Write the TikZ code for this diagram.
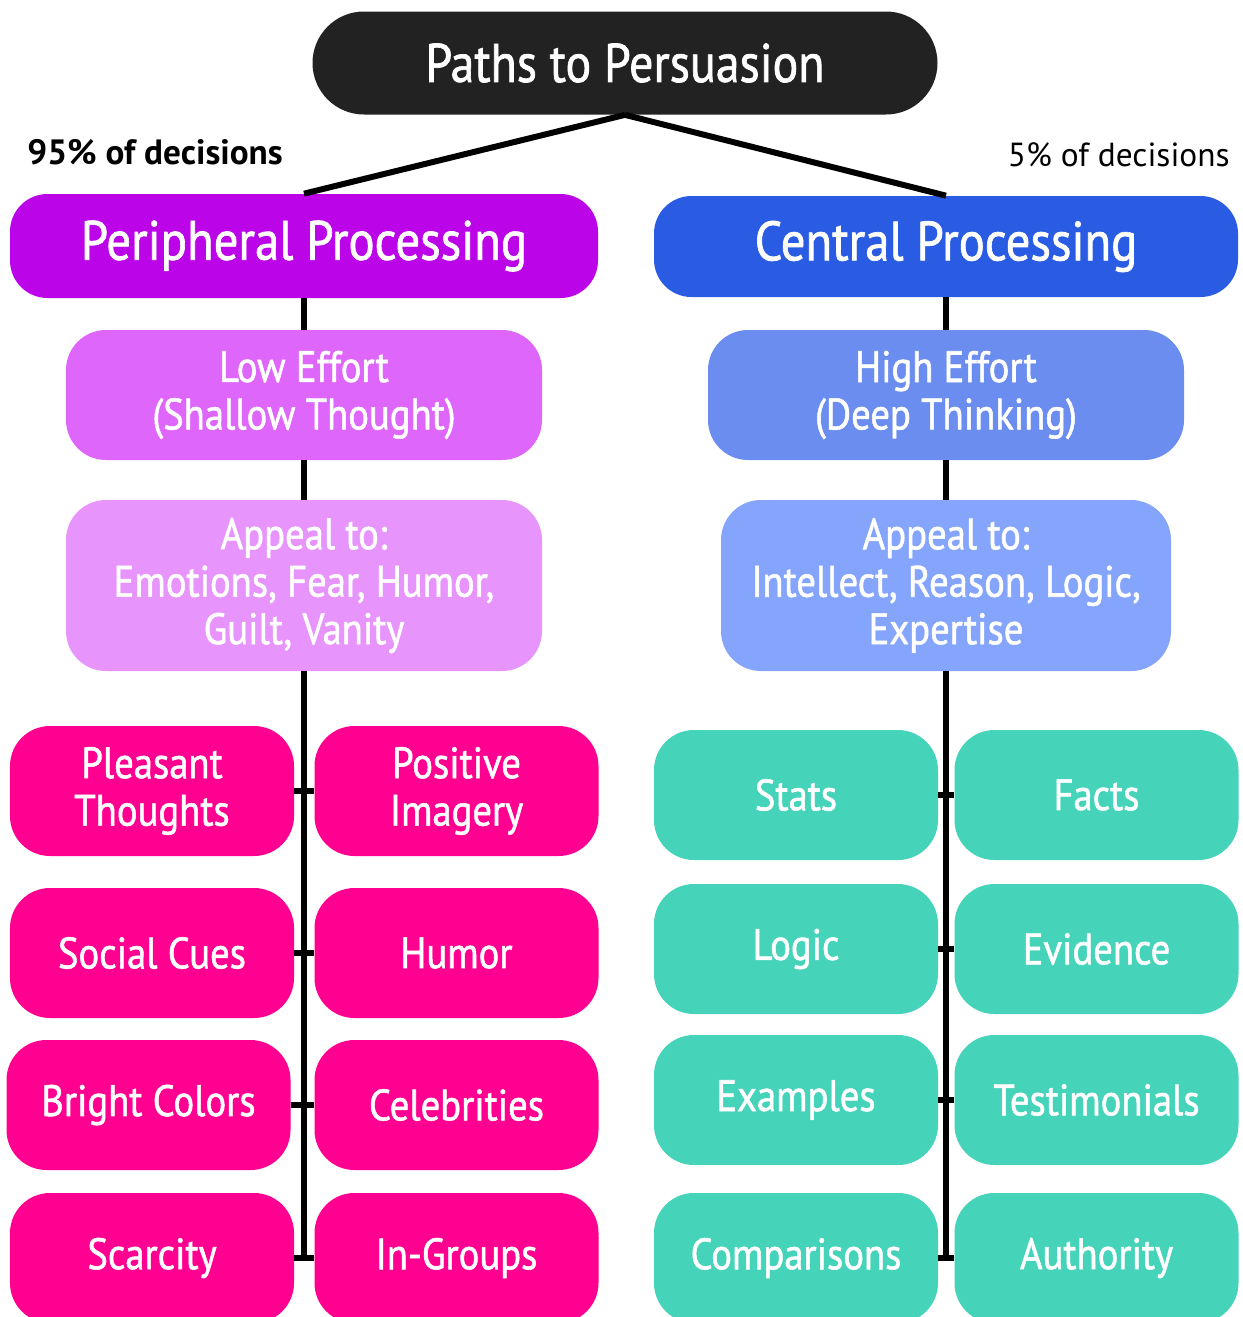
\documentclass[tikz,border=0pt]{standalone}
\usepackage{fontspec}
\setmainfont{PT Sans}[FakeStretch=0.88, FakeBold=1.2]
\newfontfamily\labelfont{PT Sans}
\usepackage{xcolor}
\usepackage{tikz}
\usetikzlibrary{positioning}

\definecolor{titlegray}{HTML}{222222}
\definecolor{periph}{HTML}{BC04E8}
\definecolor{central}{HTML}{2A5BE3}
\definecolor{loweff}{HTML}{DF66FB}
\definecolor{appealL}{HTML}{E794FC}
\definecolor{higheff}{HTML}{6A8DEF}
\definecolor{appealR}{HTML}{85A5FC}
\definecolor{cuepink}{HTML}{FF0090}
\definecolor{cueteal}{HTML}{45D3BA}

\begin{document}
\begin{tikzpicture}[
    box/.style={rounded corners=0.8cm, text=white, align=center,
      minimum height=2.6cm, inner sep=0pt,
      font=\fontsize{25}{27}\selectfont},
    headbox/.style={rounded corners=0.75cm, text=white, minimum height=2.06cm,
      inner sep=0pt, font=\fontsize{31.5}{33}\selectfont},
    pinkcue/.style={box, fill=cuepink, minimum width=5.68cm},
    tealcue/.style={box, fill=cueteal, minimum width=5.68cm},
    link/.style={line width=3.4pt, black}]
  \useasboundingbox (0,0) rectangle (24.86,-26.34);

  % top
  \node[headbox, fill=titlegray, rounded corners=1.03cm, minimum width=12.5cm, font=\fontsize{31}{33}\selectfont] (title) at (12.5,-1.26) {Paths to Persuasion};
  \node[headbox, fill=periph, minimum width=11.76cm, minimum height=2.08cm] (periph) at (6.08,-4.92) {Peripheral Processing};
  \node[headbox, fill=central, minimum width=11.68cm, minimum height=2.02cm] (central) at (18.92,-4.93) {Central Processing};
  \node[anchor=west, inner sep=0pt, font=\fontsize{20}{22}\labelfont\bfseries] (pct95) at (0.54,-3.04) {95\% of decisions};
  \node[anchor=east, inner sep=0pt, font=\fontsize{19}{22}\labelfont] (pct5) at (24.6,-3.1) {5\% of decisions};

  % effort and appeal
  \node[box, fill=loweff, minimum width=9.52cm] (loweffort) at (6.08,-7.9) {Low Effort\\(Shallow Thought)};
  \node[box, fill=higheff, minimum width=9.52cm] (higheffort) at (18.92,-7.9) {High Effort\\(Deep Thinking)};
  \node[box, fill=appealL, minimum width=9.52cm, minimum height=3.42cm] (appealP) at (6.08,-11.71) {Appeal to:\\Emotions, Fear, Humor,\\Guilt, Vanity};
  \node[box, fill=appealR, minimum width=9.0cm, minimum height=3.42cm] (appealC) at (18.92,-11.71) {Appeal to:\\Intellect, Reason, Logic,\\Expertise};

  % peripheral cues
  \node[pinkcue] (pl1) at (3.04,-15.82) {Pleasant\\Thoughts};
  \node[pinkcue] (pr1) at (9.13,-15.82) {Positive\\Imagery};
  \node[pinkcue] (pl2) at (3.04,-19.06) {Social Cues};
  \node[pinkcue] (pr2) at (9.13,-19.06) {Humor};
  \node[pinkcue] (pl3) at (2.97,-22.1) {Bright Colors};
  \node[pinkcue] (pr3) at (9.13,-22.1) {Celebrities};
  \node[pinkcue] (pl4) at (3.04,-25.16) {Scarcity};
  \node[pinkcue] (pr4) at (9.13,-25.16) {In-Groups};

  % central cues
  \node[tealcue] (cl1) at (15.92,-15.9) {Stats};
  \node[tealcue] (cr1) at (21.93,-15.9) {Facts};
  \node[tealcue] (cl2) at (15.92,-18.98) {Logic};
  \node[tealcue] (cr2) at (21.93,-18.98) {Evidence};
  \node[tealcue] (cl3) at (15.92,-22.0) {Examples};
  \node[tealcue] (cr3) at (21.93,-22.0) {Testimonials};
  \node[tealcue] (cl4) at (15.92,-25.16) {Comparisons};
  \node[tealcue] (cr4) at (21.93,-25.16) {Authority};

  \coordinate (spineP) at (6.08,-25.16);
  \coordinate (spineC) at (18.92,-25.16);

  % connectors
  \draw[link] (title.south) -- (periph.north);
  \draw[link] (title.south) -- (central.north);
  \draw[link] (periph.south) -- (loweffort.north);
  \draw[link] (loweffort.south) -- (appealP.north);
  \draw[link] (central.south) -- (higheffort.north);
  \draw[link] (higheffort.south) -- (appealC.north);
  \draw[link] (appealP.south) -- (spineP);
  \draw[link] (appealC.south) -- (spineC);
  \foreach \i in {1,...,4} {
    \draw[link] (pl\i.east) -- (pr\i.west);
    \draw[link] (cl\i.east) -- (cr\i.west);
  }
\end{tikzpicture}
\end{document}
